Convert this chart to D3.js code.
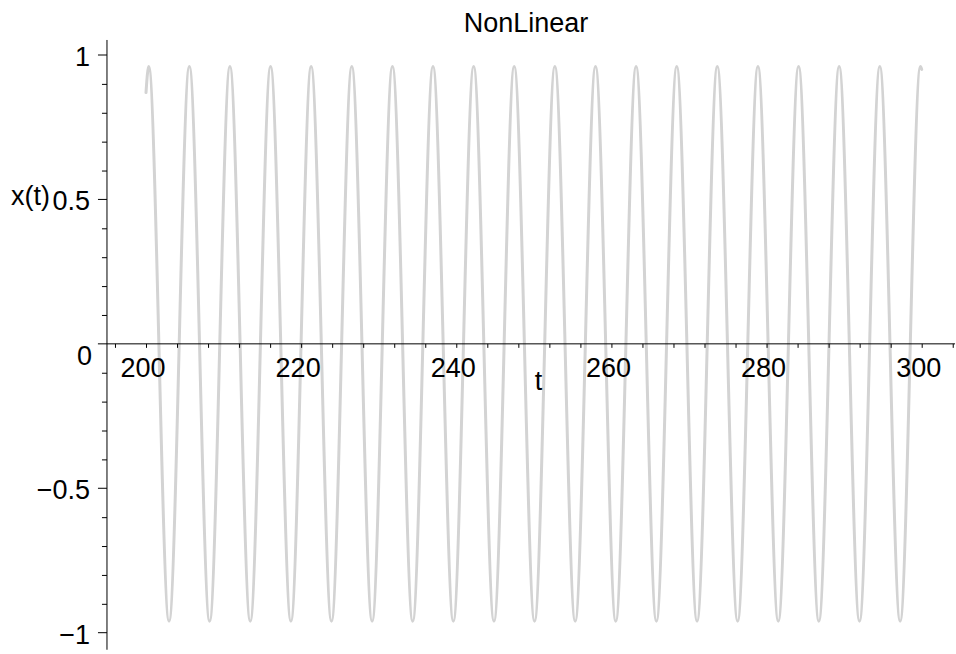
<!DOCTYPE html>
<html>
<head>
<meta charset="utf-8">
<script src="https://cdn.jsdelivr.net/npm/d3@7"></script>
<style>
body{margin:0;background:#fff;}
text{font-family:"Liberation Sans",Arial,sans-serif;fill:#000;}
</style>
</head>
<body>
<div id="plot"></div>
<script>
//values
var title = 'NonLinear';
var xLabel = 't', yLabel = 'x(t)';
var xTickLabels = [200,220,240,260,280,300];
var yTickLabels = [1,0.5,0,-0.5,-1];

//key points of the curve: start, peaks, zero crossings, troughs, end
var tValues = [200,200.35,201.66,202.97,204.28,205.59,206.90,208.20,209.51,210.82,212.13,213.44,214.75,
	216.06,217.37,218.68,219.99,221.29,222.60,223.91,225.22,226.53,227.84,229.15,230.46,231.77,233.08,
	234.38,235.69,237.00,238.31,239.62,240.93,242.24,243.55,244.86,246.17,247.47,248.78,250.09,251.40,
	252.71,254.02,255.33,256.64,257.95,259.26,260.56,261.87,263.18,264.49,265.80,267.11,268.42,269.73,
	271.04,272.35,273.65,274.96,276.27,277.58,278.89,280.20,281.51,282.82,284.13,285.44,286.74,288.05,
	289.36,290.67,291.98,293.29,294.60,295.91,297.22,298.53,299.84,300];
var xValues = [0.87,0.96,0,-0.96,0,0.96,0,-0.96,0,0.96,0,-0.96,0,
	0.96,0,-0.96,0,0.96,0,-0.96,0,0.96,0,-0.96,0,0.96,0,
	-0.96,0,0.96,0,-0.96,0,0.96,0,-0.96,0,0.96,0,-0.96,0,
	0.96,0,-0.96,0,0.96,0,-0.96,0,0.96,0,-0.96,0,0.96,0,
	-0.96,0,0.96,0,-0.96,0,0.96,0,-0.96,0,0.96,0,-0.96,0,
	0.96,0,-0.96,0,0.96,0,-0.96,0,0.96,0.95];

var width = 956, height = 654;

var svg = d3.select('#plot')
	.append('svg')
	.attr('width',width)
	.attr('height',height);

var x = d3.scaleLinear().domain([200,300]).range([146,921.7]);
var y = d3.scaleLinear().domain([-1,1]).range([632.7,55]);

var points = tValues.map(function(t,i){ return {t:t, v:xValues[i]}; });
var n = points.length;

function lineWith(curve){
	return d3.line()
		.curve(curve)
		.x(function(d){ return x(d.t); })
		.y(function(d){ return y(d.v); });
}

//smooth spline between the first and last zero crossing, monotone bits at the two ends
var pieces = [
	{pts:points.slice(0,3), curve:d3.curveMonotoneX},
	{pts:points.slice(2,n-2), curve:d3.curveNatural},
	{pts:points.slice(n-3), curve:d3.curveMonotoneX}
];
var pathD = pieces.map(function(p){ return lineWith(p.curve)(p.pts); }).join('');

//the curve goes under the axes
svg.append('path')
	.attr('d',pathD)
	.attr('fill','none')
	.attr('stroke','#d3d3d3')
	.attr('stroke-width',3)
	.attr('stroke-linecap','round')
	.attr('stroke-linejoin','round');

//x axis: line across, small ticks every 4, labels every 20
var xAxis = d3.axisBottom(x)
	.tickValues(d3.range(196,305,4))
	.tickSize(4)
	.tickSizeOuter(0)
	.tickFormat('');
var gx = svg.append('g')
	.attr('transform','translate(0,'+y(0)+')')
	.call(xAxis);
gx.select('.domain').attr('d','M'+x(193.8)+',0H'+x(304.3));
gx.selectAll('line,path').attr('stroke','#000');

gx.selectAll('.lbl')
	.data(xTickLabels)
	.enter()
	.append('text')
	.attr('class','lbl')
	.attr('x',function(d){ return x(d)-3; })
	.attr('y',33)
	.attr('text-anchor','middle')
	.attr('font-size',27)
	.text(function(d){ return d; });

//y axis: major ticks at 0.5, minor every 0.1
var yAxis = d3.axisLeft(y)
	.tickValues(d3.range(-10,11).filter(function(k){ return k%5!==0; }).map(function(k){ return k/10; }))
	.tickSize(5)
	.tickSizeOuter(0)
	.tickFormat('');
var gy = svg.append('g')
	.attr('transform','translate('+x(194.97)+',0)')
	.call(yAxis);
gy.select('.domain').attr('d','M0,'+y(1.052)+'V'+y(-1.059));
gy.selectAll('line,path').attr('stroke','#000');

gy.selectAll('.major')
	.data(yTickLabels.filter(function(d){ return d!==0; }))
	.enter()
	.append('line')
	.attr('class','major')
	.attr('x1',-9)
	.attr('x2',0)
	.attr('y1',function(d){ return y(d); })
	.attr('y2',function(d){ return y(d); })
	.attr('stroke','#000');

gy.selectAll('.lbl')
	.data(yTickLabels)
	.enter()
	.append('text')
	.attr('class','lbl')
	.attr('x',function(d){ return d===0 ? -15 : -17; })
	.attr('y',function(d){ return y(d) + (d===0 ? 21.5 : 10.8); })
	.attr('text-anchor','end')
	.attr('font-size',27)
	.text(function(d){ return d<0 ? '\u2212'+Math.abs(d) : d; });

//axis titles and plot title
svg.append('text')
	.attr('x',x(250.6))
	.attr('y',390)
	.attr('text-anchor','middle')
	.attr('font-size',27)
	.text(xLabel);

svg.append('text')
	.attr('x',11)
	.attr('y',205)
	.attr('font-size',27)
	.text(yLabel);

svg.append('text')
	.attr('x',526)
	.attr('y',32)
	.attr('text-anchor','middle')
	.attr('font-size',27)
	.text(title);
</script>
</body>
</html>
